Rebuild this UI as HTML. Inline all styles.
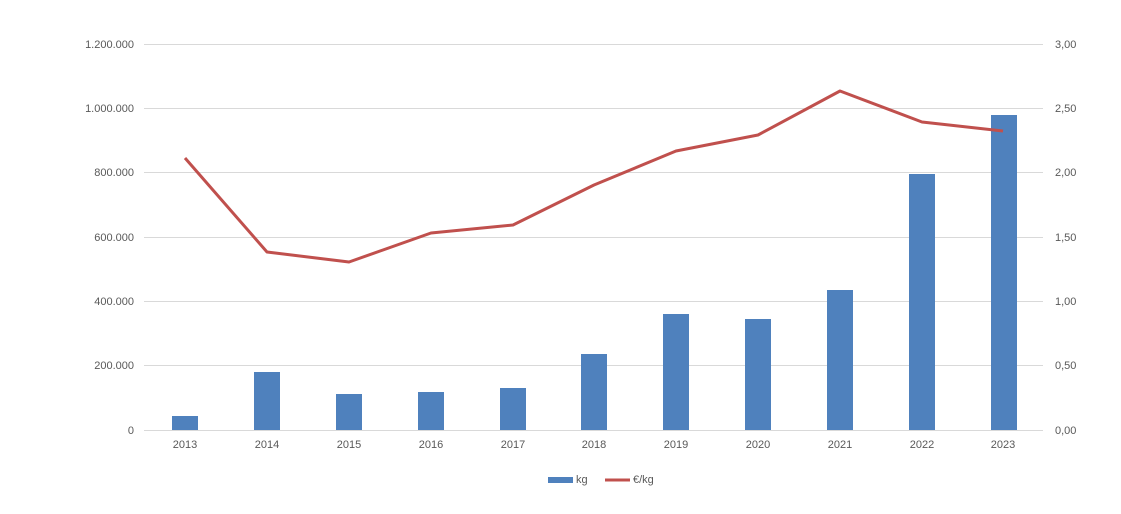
<!DOCTYPE html>
<html><head><meta charset="utf-8"><style>body{margin:0;background:#fff}svg{display:block}text{font-family:"Liberation Sans",sans-serif;font-size:11px;fill:#595959}</style></head><body>
<svg width="1121" height="514" xmlns="http://www.w3.org/2000/svg">
<g stroke="#d9d9d9" stroke-width="1">
<line x1="144" x2="1043" y1="44.5" y2="44.5"/><line x1="144" x2="1043" y1="108.5" y2="108.5"/><line x1="144" x2="1043" y1="172.5" y2="172.5"/><line x1="144" x2="1043" y1="237.5" y2="237.5"/><line x1="144" x2="1043" y1="301.5" y2="301.5"/><line x1="144" x2="1043" y1="365.5" y2="365.5"/><line x1="144" x2="1043" y1="430.5" y2="430.5"/>
</g>
<g text-anchor="end">
<text x="134" y="48">1.200.000</text><text x="134" y="112">1.000.000</text><text x="134" y="176">800.000</text><text x="134" y="241">600.000</text><text x="134" y="305">400.000</text><text x="134" y="369">200.000</text><text x="134" y="434">0</text>
</g>
<g>
<text x="1055" y="48">3,00</text><text x="1055" y="112">2,50</text><text x="1055" y="176">2,00</text><text x="1055" y="241">1,50</text><text x="1055" y="305">1,00</text><text x="1055" y="369">0,50</text><text x="1055" y="434">0,00</text>
</g>
<g fill="#4f81bd">
<rect x="172" y="416" width="26" height="14"/>
<rect x="254" y="372" width="26" height="58"/>
<rect x="336" y="394" width="26" height="36"/>
<rect x="418" y="392" width="26" height="38"/>
<rect x="500" y="388" width="26" height="42"/>
<rect x="581" y="354" width="26" height="76"/>
<rect x="663" y="314" width="26" height="116"/>
<rect x="745" y="319" width="26" height="111"/>
<rect x="827" y="290" width="26" height="140"/>
<rect x="909" y="174" width="26" height="256"/>
<rect x="991" y="115" width="26" height="315"/>
</g>
<polyline fill="none" stroke="#c0504d" stroke-width="3" stroke-linejoin="round" points="185,158 267,252 349,262 431,233 513,225 594,185 676,151 758,135 840,91 922,122 1003,131"/>
<g text-anchor="middle">
<text x="185" y="448">2013</text><text x="267" y="448">2014</text><text x="349" y="448">2015</text><text x="431" y="448">2016</text><text x="513" y="448">2017</text><text x="594" y="448">2018</text><text x="676" y="448">2019</text><text x="758" y="448">2020</text><text x="840" y="448">2021</text><text x="922" y="448">2022</text><text x="1003" y="448">2023</text>
</g>
<rect x="548" y="477" width="25" height="6" fill="#4f81bd"/>
<text x="576" y="483">kg</text>
<line x1="605" x2="630" y1="480" y2="480" stroke="#c0504d" stroke-width="3"/>
<text x="633" y="483">€/kg</text>
</svg>
</body></html>
